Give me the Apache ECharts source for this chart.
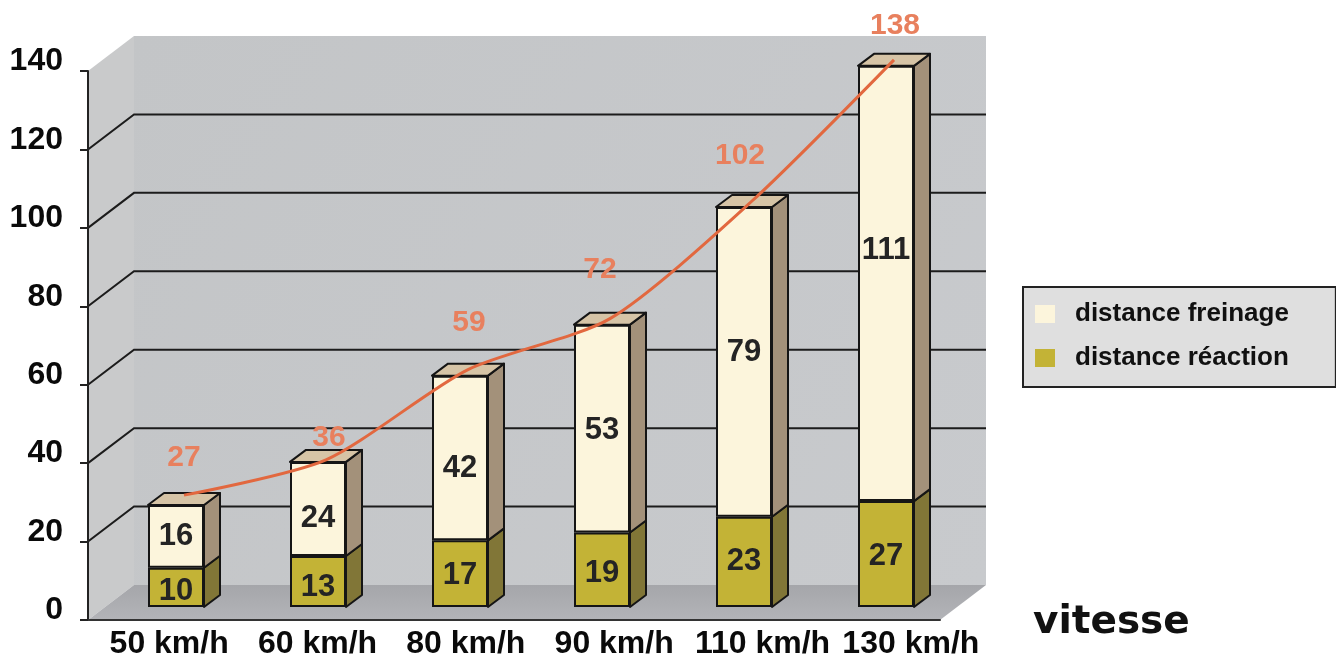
<!DOCTYPE html>
<html>
<head>
<meta charset="utf-8">
<script src="https://cdn.jsdelivr.net/npm/echarts@6/dist/echarts.min.js"></script>
<style>
  html, body { margin: 0; padding: 0; background: #ffffff; }
  #chart { width: 1336px; height: 660px; }
</style>
</head>
<body>
<div id="chart"></div>
<script>
// Distances (m) by speed
const speeds   = ['50 km/h', '60 km/h', '80 km/h', '90 km/h', '110 km/h', '130 km/h'];
const reaction = [10, 13, 17, 19, 23, 27];        // distance réaction
const freinage = [16, 24, 42, 53, 79, 111];       // distance freinage
const arret    = [27, 36, 59, 72, 102, 138];      // distance d'arrêt (curve)
const yTicks   = [0, 20, 40, 60, 80, 100, 120, 140];

// Look of the pseudo-3D scene
const FONT = '"Liberation Sans", Arial, sans-serif';
const WALL_DEPTH = [46, -35];     // back wall offset from the front plane (px)
const BAR_DEPTH  = [16, -12];     // thickness of each bar (px)
const BAR_W = 56;
const C_FREIN = '#fcf5dc', C_FREIN_SIDE = '#a3917a', C_TOP = '#d6c4a6';
const C_REACT = '#c3b336', C_REACT_SIDE = '#817637';
const C_LINE = '#e2683f', C_LINE_LABEL = '#e8805e';
const EDGE = '#151515';

// label nudges (px)
const arretLabelShift = [[0, -22], [3, -7], [1, -31], [-10, -33], [-12, -30], [1, -19]];
const freinLabelDy    = [0, 9, 10, 2, -9, -33];
const reactLabelDy    = [4, 6, 2, 4, 0, 2];

// front plane grid (labelled value axis) and planes shifted into depth
const G = { left: 88, top: 71, width: 852, height: 549 };
const shifted = (dx, dy) => ({ left: G.left + dx, top: G.top + dy, width: G.width, height: G.height });

function renderWalls(params, api) {
  const cs = params.coordSys;
  const x0 = cs.x, x1 = cs.x + cs.width, yt = cs.y, yb = cs.y + cs.height;
  const dx = WALL_DEPTH[0], dy = WALL_DEPTH[1];
  const children = [
    { type: 'polygon', shape: { points: [[x0 + dx, yt + dy], [x1 + dx, yt + dy], [x1 + dx, yb + dy], [x0 + dx, yb + dy]] },
      style: { fill: new echarts.graphic.LinearGradient(0, 0, 1, 1, [{ offset: 0, color: '#c3c5c7' }, { offset: 1, color: '#c8cacd' }]) } },
    { type: 'polygon', shape: { points: [[x0, yb], [x0, yt], [x0 + dx, yt + dy], [x0 + dx, yb + dy]] },
      style: { fill: '#c9cacb' } },
    { type: 'polygon', shape: { points: [[x0, yb], [x1, yb], [x1 + dx, yb + dy], [x0 + dx, yb + dy]] },
      style: { fill: new echarts.graphic.LinearGradient(0, 0, 0, 1, [{ offset: 0, color: '#a5a6aa' }, { offset: 1, color: '#b3b4b8' }]) } }
  ];
  yTicks.slice(1, -1).forEach(v => {
    const y = api.coord([0, v])[1];
    children.push({ type: 'polyline', shape: { points: [[x0, y], [x0 + dx, y + dy], [x1 + dx, y + dy]] },
      style: { stroke: '#1c1c1c', lineWidth: 2, fill: null } });
  });
  return { type: 'group', children };
}

function faces(sideColor, withTop) {
  return function (params, api) {
    const i = api.value(0);
    const lo = api.coord([i, api.value(1)]);
    const hi = api.coord([i, api.value(2)]);
    const xl = lo[0] - BAR_W / 2, xr = lo[0] + BAR_W / 2;
    const dx = BAR_DEPTH[0], dy = BAR_DEPTH[1];
    const children = [{
      type: 'polygon',
      shape: { points: [[xr, hi[1]], [xr + dx, hi[1] + dy], [xr + dx, lo[1] + dy], [xr, lo[1]]] },
      style: { fill: sideColor, stroke: EDGE, lineWidth: 2, lineJoin: 'round' }
    }];
    if (withTop) {
      children.push({
        type: 'polygon',
        shape: { points: [[xl, hi[1]], [xl + dx, hi[1] + dy], [xr + dx, hi[1] + dy], [xr, hi[1]]] },
        style: { fill: C_TOP, stroke: EDGE, lineWidth: 2, lineJoin: 'round' }
      });
    }
    return { type: 'group', children };
  };
}

const reactSeg = speeds.map((s, i) => [i, 0, reaction[i]]);
const freinSeg = speeds.map((s, i) => [i, reaction[i], reaction[i] + freinage[i]]);

const hiddenValue = { type: 'value', min: 0, max: 140, interval: 20, show: false };
const hiddenCat = { type: 'category', data: speeds, show: false };
const barLabel = { show: true, position: 'inside', fontFamily: FONT, fontWeight: 'bold', fontSize: 31, color: '#242424' };

const option = {
  animation: false,
  backgroundColor: '#ffffff',
  title: {
    text: 'vitesse', left: 1033, top: 603, padding: 0,
    textStyle: { fontFamily: '"DejaVu Sans", Verdana, sans-serif', fontWeight: 'bold', fontSize: 39, color: '#111' }
  },
  grid: [
    Object.assign({}, G),            // 0: front plane, walls
    shifted(17, -13),                // 1: bar front faces
    shifted(25, -19),                // 2: stopping-distance curve
    { left: 95, top: 100, width: 890, height: 520 }   // 3: speed labels
  ],
  xAxis: [
    { gridIndex: 0, type: 'category', data: speeds, z: 10,
      axisLine: { show: true, lineStyle: { color: '#333', width: 2 } },
      axisTick: { show: false }, axisLabel: { show: false }, splitLine: { show: false } },
    Object.assign({ gridIndex: 1 }, hiddenCat),
    Object.assign({ gridIndex: 2 }, hiddenCat),
    { gridIndex: 3, type: 'category', data: speeds,
      axisLine: { show: false }, axisTick: { show: false }, splitLine: { show: false },
      axisLabel: { interval: 0, margin: 14, fontFamily: FONT, fontWeight: 'bold', fontSize: 32, color: '#0a0a0a' } }
  ],
  yAxis: [
    { gridIndex: 0, type: 'value', min: 0, max: 140, interval: 20, z: 10,
      axisLine: { show: true, lineStyle: { color: '#222', width: 2 } },
      axisTick: { show: true, length: 8, lineStyle: { color: '#222', width: 2 } },
      splitLine: { show: false },
      axisLabel: { margin: 25, verticalAlign: 'bottom', lineHeight: 19, fontFamily: FONT, fontWeight: 'bold', fontSize: 32, color: '#0a0a0a' } },
    Object.assign({ gridIndex: 1 }, hiddenValue),
    Object.assign({ gridIndex: 2 }, hiddenValue),
    Object.assign({ gridIndex: 3 }, hiddenValue)
  ],
  legend: {
    orient: 'vertical', left: 1023, top: 287,
    data: ['distance freinage', 'distance réaction'],
    icon: 'rect', itemWidth: 20, itemHeight: 18, itemGap: 18,
    itemStyle: { borderWidth: 0 },
    backgroundColor: '#dfdfdf', borderColor: '#222', borderWidth: 2,
    padding: [14, 47, 16, 12],
    textStyle: { fontFamily: FONT, fontWeight: 'bold', fontSize: 26, color: '#111', padding: [0, 0, 0, 15] },
    selectedMode: false
  },
  series: [
    { type: 'custom', name: 'plan', xAxisIndex: 0, yAxisIndex: 0, z: 0, silent: true,
      data: [[0, 0]], renderItem: renderWalls, clip: false },
    { type: 'bar', name: 'distance réaction', xAxisIndex: 1, yAxisIndex: 1, stack: 'd', z: 3,
      barWidth: BAR_W,
      data: reaction.map((v, i) => ({ value: v, label: { offset: [0, reactLabelDy[i]] } })),
      itemStyle: { color: C_REACT, borderColor: EDGE, borderWidth: 2 }, label: barLabel },
    { type: 'bar', name: 'distance freinage', xAxisIndex: 1, yAxisIndex: 1, stack: 'd', z: 3,
      barWidth: BAR_W,
      data: freinage.map((v, i) => ({ value: v, label: { offset: [0, freinLabelDy[i]] } })),
      itemStyle: { color: C_FREIN, borderColor: EDGE, borderWidth: 2 }, label: barLabel },
    { type: 'custom', name: 'réaction 3d', xAxisIndex: 1, yAxisIndex: 1, z: 3, silent: true,
      data: reactSeg, encode: { x: 0, y: [1, 2] }, renderItem: faces(C_REACT_SIDE, false) },
    { type: 'custom', name: 'freinage 3d', xAxisIndex: 1, yAxisIndex: 1, z: 3, silent: true,
      data: freinSeg, encode: { x: 0, y: [1, 2] }, renderItem: faces(C_FREIN_SIDE, true) },
    { type: 'line', name: "distance d'arrêt", xAxisIndex: 2, yAxisIndex: 2, z: 6, clip: false,
      smooth: 0.25, symbol: 'circle', symbolSize: 1, showSymbol: true,
      itemStyle: { color: 'rgba(0,0,0,0)' },
      lineStyle: { color: C_LINE, width: 3 },
      data: arret.map((v, i) => ({
        value: v,
        label: { offset: arretLabelShift[i] }
      })),
      label: { show: true, position: 'top', distance: 0, fontFamily: FONT, fontWeight: 'bold', fontSize: 30, color: C_LINE_LABEL } }
  ]
};

const chart = echarts.init(document.getElementById('chart'), null, { renderer: 'canvas' });
chart.setOption(option);
</script>
</body>
</html>
